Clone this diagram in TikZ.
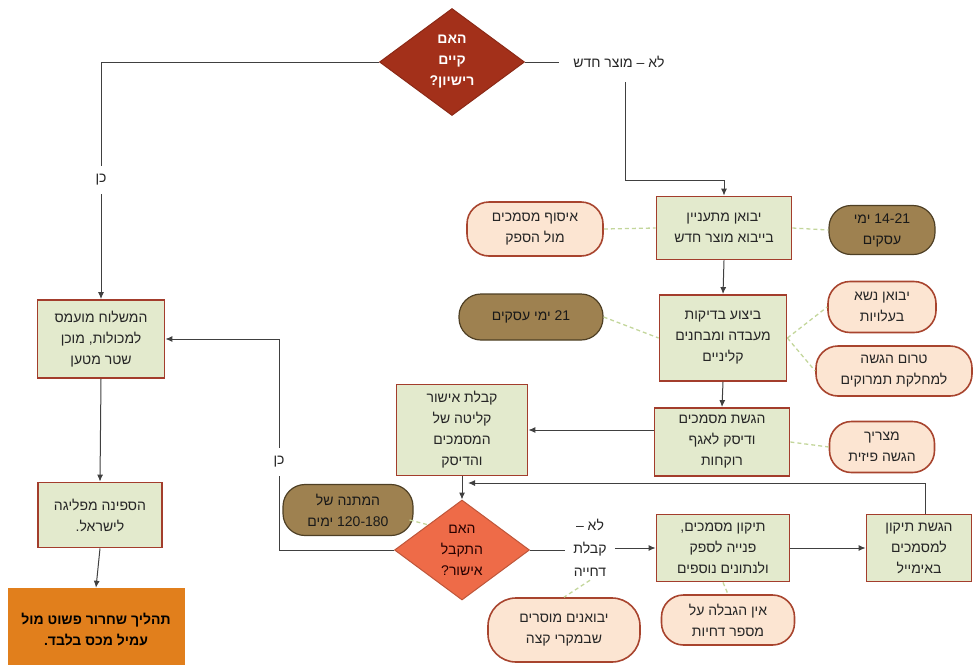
\documentclass[tikz,border=0pt]{standalone}
\usepackage{fontspec}
\setmainfont[Script=Hebrew]{Liberation Sans}
\TeXXeTstate=1
\usetikzlibrary{arrows.meta,shapes.geometric,calc}
\newcommand{\R}[1]{\beginR #1\endR}
\newcommand{\NumL}[1]{\beginL #1\endL{}}
\definecolor{boxfill}{HTML}{E3EACD}
\definecolor{boxdraw}{HTML}{A33D2C}
\definecolor{peach}{HTML}{FCE5D2}
\definecolor{peachdraw}{HTML}{A8442E}
\definecolor{brownfill}{HTML}{9E8150}
\definecolor{browndraw}{HTML}{4E3F24}
\definecolor{dred}{HTML}{A3301A}
\definecolor{dorange}{HTML}{EE6B48}
\definecolor{orangebox}{HTML}{E17F1C}
\definecolor{lineclr}{HTML}{404040}
\definecolor{dotclr}{HTML}{C3D69B}
\definecolor{txt}{HTML}{262626}
\tikzset{
  basefont/.style={font=\fontsize{14}{21}\selectfont},
  procbox/.style={draw=boxdraw, line width=1.8pt, fill=boxfill, align=center, inner sep=2pt, basefont, text=txt},
  peachoval/.style={draw=peachdraw, line width=1.6pt, fill=peach, rounded corners=22pt, align=center, inner sep=2pt, basefont, text=txt},
  brownoval/.style={draw=browndraw, line width=1.2pt, fill=brownfill, rounded corners=22pt, align=center, inner sep=2pt, basefont, text=black!90},
  lbl/.style={align=center, basefont, text=txt, fill=white},
  conn/.style={draw=lineclr, line width=1pt},
  arrowconn/.style={conn, -{Latex[length=7pt,width=6pt]}},
  dotconn/.style={draw=dotclr, line width=1.3pt, dash pattern=on 4pt off 3pt}
}
\begin{document}
\begin{tikzpicture}[x=1pt,y=-1pt]
\useasboundingbox (0,0) rectangle (974,664);
% top decision
\node[diamond, draw=dred!85!black, fill=dred, line width=1pt, minimum width=145pt, minimum height=107pt, inner sep=0pt] (d1) at (452,62) {};
\node[align=center, text=white, font=\fontsize{14}{21}\selectfont\bfseries] (d1t) at (d1.center) {\R{האם}\\\R{קיים}\\\R{רישיון?}};
\node[lbl, inner xsep=14pt] (no1) at (619,62) {\R{לא – מוצר חדש}};
% right column
\node[procbox, minimum width=135pt, minimum height=63pt] (b1) at (724,228) {\R{יבואן מתעניין}\\\R{בייבוא מוצר חדש}};
\node[peachoval, minimum width=136pt, minimum height=54pt] (o1) at (535,229) {\R{איסוף מסמכים}\\\R{מול הספק}};
\node[brownoval, minimum width=106pt, minimum height=49pt] (o2) at (882,230) {\R{\NumL{14-21} ימי}\\\R{עסקים}};
\node[procbox, minimum width=127pt, minimum height=86pt] (b2) at (723,338) {\R{ביצוע בדיקות}\\\R{מעבדה ומבחנים}\\\R{קליניים}};
\node[brownoval, minimum width=144pt, minimum height=46pt] (o3) at (531,317) {\R{\NumL{21} ימי עסקים}};
\node[peachoval, minimum width=108pt, minimum height=51pt] (o4) at (882,307) {\R{יבואן נשא}\\\R{בעלויות}};
\node[peachoval, minimum width=156pt, minimum height=50pt] (o5) at (894,371) {\R{טרום הגשה}\\\R{למחלקת תמרוקים}};
\node[procbox, minimum width=135pt, minimum height=68pt] (b3) at (722,442) {\R{הגשת מסמכים}\\\R{ודיסק לאגף}\\\R{רוקחות}};
\node[peachoval, minimum width=105pt, minimum height=51pt] (o6) at (882,447) {\R{מצריך}\\\R{הגשה פיזית}};
\node[procbox, minimum width=131pt, minimum height=91pt] (b4) at (462,430) {\R{קבלת אישור}\\\R{קליטה של}\\\R{המסמכים}\\\R{והדיסק}};
% second decision
\node[diamond, draw=dorange!80!black, fill=dorange, line width=1pt, minimum width=135pt, minimum height=100pt, inner sep=0pt] (d2) at (462,550) {};
\node[align=center, text=black!85!red, font=\fontsize{14}{21}\selectfont] (d2t) at (d2.center) {\R{האם}\\\R{התקבל}\\\R{אישור?}};
\node[brownoval, minimum width=130pt, minimum height=51pt] (o7) at (348,510) {\R{המתנה של}\\\R{\NumL{120-180} ימים}};
\node[lbl, inner xsep=8pt, font=\fontsize{14}{23}\selectfont] (no2) at (590,548) {\R{לא –}\\\R{קבלת}\\\R{דחייה}};
\node[procbox, minimum width=133pt, minimum height=67pt] (b5) at (723,548) {\R{תיקון מסמכים,}\\\R{פנייה לספק}\\\R{ולנתונים נוספים}};
\node[procbox, minimum width=105pt, minimum height=67pt] (b6) at (919,548) {\R{הגשת תיקון}\\\R{למסמכים}\\\R{באימייל}};
\node[peachoval, rounded corners=28pt, minimum width=152pt, minimum height=64pt] (o8) at (564,630) {\R{יבואנים מוסרים}\\\R{שבמקרי קצה}};
\node[peachoval, minimum width=133pt, minimum height=50pt] (o9) at (728,620) {\R{אין הגבלה על}\\\R{מספר דחיות}};
% left column
\node[procbox, minimum width=127pt, minimum height=78pt] (L1) at (101,339) {\R{המשלוח מועמס}\\\R{למכולות, מוכן}\\\R{שטר מטען}};
\node[procbox, minimum width=124pt, minimum height=65pt] (L2) at (100,515) {\R{הספינה מפליגה}\\\R{לישראל.}};
\node[fill=orangebox, minimum width=177pt, minimum height=84pt, align=center, text=black, font=\fontsize{14}{21}\selectfont\bfseries] (L3) at (96,630) {\R{תהליך שחרור פשוט מול}\\\R{עמיל מכס בלבד.}};
% coordinates
\coordinate (c1) at (625,82);
\coordinate (c2) at (625,180);
\coordinate (c3) at (279,339);
\coordinate (c4) at (925,483);
\coordinate (c5) at (468,483);
% connectors
\draw[arrowconn] (d1.west) -| (L1.north);
\node[lbl, inner ysep=8pt] (yes1) at (101,180) {\R{כן}};
\draw[conn] (d1.east) -- (no1.west);
\draw[arrowconn] (c1) -- (c2) -| (b1.north);
\draw[arrowconn] (b1.south) -- (b2.north);
\draw[arrowconn] (b2.south) -- (b3.north);
\draw[arrowconn] (b3.west |- b4.east) -- (b4.east);
\draw[arrowconn] (b4.south) -- (d2.north);
\draw[arrowconn] (d2.west) -| (c3) -- (L1.east);
\node[lbl, inner ysep=8pt] (yes2) at (279,462) {\R{כן}};
\draw[conn] (d2.east) -- (d2.east -| no2.west);
\draw[arrowconn] (no2.east |- b5.west) -- (b5.west);
\draw[arrowconn] (b5.east) -- (b6.west);
\draw[arrowconn] (b6.north -| c4) -- (c4) -- (c5);
\draw[arrowconn] (L1.south) -- (L2.north);
\draw[arrowconn] (L2.south) -- (L3.north);
% dotted associations
\draw[dotconn] (o1.east) -- (b1.west);
\draw[dotconn] (b1.east) -- (o2.west);
\draw[dotconn] (o3.east) -- (b2.west);
\draw[dotconn] (b2.east) -- (o4.west);
\draw[dotconn] (b2.east) -- (o5.west);
\draw[dotconn] (b3.east) -- (o6.west);
\draw[dotconn] ($(o7.east)+(-4,10)$) -- (d2.north west);
\draw[dotconn] (b5.south) -- (o9.north);
\draw[dotconn] (no2.south) -- (o8.north);
\end{tikzpicture}
\end{document}
